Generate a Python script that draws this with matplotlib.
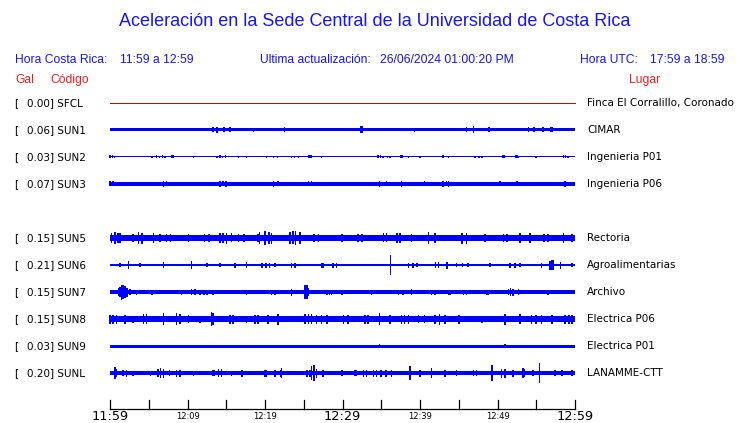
import matplotlib
matplotlib.use("Agg")
import matplotlib.pyplot as plt
import matplotlib.transforms as mtransforms

# --- data ------------------------------------------------------------------
title = "Aceleración en la Sede Central de la Universidad de Costa Rica"
hora_cr = "11:59 a 12:59"
actualizacion = "26/06/2024 01:00:20 PM"
hora_utc = "17:59 a 18:59"

codes = ["SFCL", "SUN1", "SUN2", "SUN3", "SUN5", "SUN6", "SUN7", "SUN8", "SUN9", "SUNL"]
rows = [0, 1, 2, 3, 5, 6, 7, 8, 9, 10]
gal = [0.00, 0.06, 0.03, 0.07, 0.15, 0.21, 0.15, 0.15, 0.03, 0.20]
places = ["Finca El Corralillo, Coronado", "CIMAR", "Ingenieria P01", "Ingenieria P06",
          "Rectoria", "Agroalimentarias", "Archivo", "Electrica P06", "Electrica P01",
          "LANAMME-CTT"]

# background noise half-width of each trace (screen px of the original)
noise = [0.0, 1.5, 0.5, 1.6, 3.4, 1.5, 1.6, 2.9, 1.5, 1.6]

# bursts: (minute after 11:59, half amplitude in px)
ev_sfcl = []
ev_sun1 = [(13.3, 2.5), (13.8, 3), (14.7, 2.5), (15.5, 2.5), (18.5, 2), (22.5, 2.5),
           (32.3, 3.5), (32.5, 3.5), (39.3, 2), (46.0, 2.5), (46.9, 3.5), (48.9, 2.5),
           (54.0, 2.5), (54.7, 2.5), (55.9, 2.5), (56.9, 2.5), (57.0, 2.5)]
ev_sun2 = [(0.0, 1.5), (0.3, 1.5), (0.6, 1.3), (5.4, 1.2), (6.0, 1.5), (6.4, 1.2), (6.8, 1.5),
           (7.1, 1.3), (8.0, 1.5), (8.2, 1.5), (10.8, 1.0), (13.8, 1.3), (14.2, 1.5),
           (14.5, 1.3), (14.9, 1.5), (16.6, 1.0), (17.6, 1.0), (20.2, 1.0), (21.1, 1.3),
           (21.6, 1.3), (23.4, 1.3), (23.8, 1.2), (24.3, 1.3), (25.7, 1.5), (25.9, 1.5),
           (27.3, 1.0), (34.6, 1.5), (34.9, 1.5), (35.2, 1.3), (35.8, 1.2), (36.1, 1.2),
           (37.5, 1.5), (37.7, 1.5), (38.5, 1.0), (40.0, 1.0), (43.0, 1.5), (43.7, 1.3),
           (47.1, 1.3), (47.6, 1.2), (48.0, 1.3), (50.7, 1.5), (50.9, 1.5), (52.3, 1.5),
           (52.5, 1.5), (52.7, 1.3), (55.0, 1.0), (58.5, 1.5), (58.8, 1.5), (59.1, 1.3)]
ev_sun3 = [(0.0, 2.5), (0.4, 2.5), (0.8, 2.2), (5.2, 2.0), (5.6, 2.0), (6.9, 3.0), (7.3, 2.5),
           (10.1, 2.0), (14.2, 2.8), (14.6, 2.5), (15.0, 2.8), (16.6, 2.0), (17.8, 2.0),
           (21.1, 3.0), (21.7, 2.5), (25.6, 2.5), (26.0, 2.5), (28.0, 2.0), (29.5, 2.0),
           (34.8, 3.0), (35.7, 2.5), (37.6, 3.0), (40.6, 2.5), (43.0, 3.0), (43.4, 2.5),
           (43.7, 3.0), (45.2, 2.0), (50.3, 2.5), (52.5, 2.5), (56.5, 2.0), (58.7, 3.0)]
ev_sun5 = [(0.2, 5), (0.65, 6), (1.0, 5), (1.29, 5), (3.0, 4), (3.66, 6), (4.1, 5.5),
           (5.59, 5), (6.45, 4), (7.3, 4), (7.8, 4), (10.1, 4), (12.2, 3.8), (12.8, 3.8),
           (14.2, 5), (14.6, 5), (15.05, 5.5), (15.7, 4.5), (16.6, 4), (17.3, 4), (19.1, 4),
           (19.3, 6), (20.0, 7), (20.5, 6), (20.85, 5.5), (23.2, 6), (23.6, 6.5), (23.95, 7.3),
           (24.5, 6), (26.3, 4), (26.9, 4), (29.9, 4), (32.0, 4), (32.5, 4), (35.3, 4.5),
           (35.7, 4.5), (37.0, 5), (37.4, 5), (38.9, 4), (41.1, 6), (41.9, 5), (45.4, 5.5),
           (46.0, 5.5), (48.4, 4), (50.8, 4), (51.2, 4), (52.9, 5), (54.2, 5), (56.0, 4),
           (56.5, 4), (58.5, 5), (59.6, 4)]
ev_sun6 = [(1.29, 2), (2.4, 3.7), (3.9, 2), (6.9, 3.2), (10.5, 4.3), (12.5, 2), (14.2, 2),
           (16.1, 2.5), (17.6, 3), (19.6, 2.5), (20.1, 2.5), (20.6, 2.5), (21.3, 2),
           (23.4, 2.5), (23.9, 2.5), (27.3, 2.5), (27.5, 2.5), (28.8, 2.5), (29.2, 2.5),
           (36.2, 10), (38.5, 2.5), (39.1, 2.5), (39.6, 2.0), (42.0, 3), (42.4, 3),
           (43.5, 3.5), (44.7, 2), (45.5, 2), (46.2, 2), (49.0, 2), (51.6, 2.5), (52.25, 2.5),
           (52.9, 2), (55.7, 2.5), (56.8, 4.5), (57.0, 5), (57.2, 5), (58.1, 3.5), (59.6, 2)]
ev_sun7 = [(1.1, 4), (1.29, 5), (1.5, 7.5), (1.7, 7), (1.9, 6), (2.2, 4.5), (2.6, 3),
           (3.4, 2.5), (5.4, 2.5), (7.3, 2), (9.2, 2.5), (10.5, 3), (11.0, 3), (11.6, 2.5),
           (12.1, 2.5), (12.5, 2.5), (13.3, 2.5), (14.8, 2), (17.6, 2.5), (20.85, 2.5),
           (21.3, 2.5), (23.4, 3.5), (25.15, 7), (25.4, 7.3), (25.6, 4), (28.0, 2.5),
           (28.3, 2.5), (28.6, 2.5), (29.9, 2.5), (31.0, 2), (33.75, 2.5), (35.7, 2),
           (37.2, 2.5), (37.8, 2.5), (38.9, 3), (41.5, 2.5), (41.9, 2.5), (43.65, 2.5),
           (43.9, 2.5), (45.6, 2.5), (46.0, 2.5), (47.1, 2), (48.6, 2.5), (48.8, 2.5),
           (50.1, 2), (51.4, 3), (51.7, 4), (52.0, 3.5), (52.7, 3), (55.0, 2), (56.55, 2.5),
           (58.7, 2)]
ev_sun8 = [(0.0, 4.5), (0.4, 4.5), (0.86, 4.5), (1.9, 4.5), (3.0, 3.5), (4.3, 5), (4.7, 5),
           (6.9, 5.7), (8.6, 6), (9.0, 5), (10.1, 4), (11.6, 3.5), (13.1, 7), (13.3, 6),
           (15.5, 4.5), (15.9, 4.5), (17.6, 3.5), (18.7, 4.5), (19.1, 4.5), (20.4, 4.5),
           (21.7, 5.5), (25.15, 5), (25.6, 5), (26.0, 5), (26.65, 4.5), (27.3, 4.5),
           (28.0, 4.5), (30.1, 4.5), (30.7, 4.5), (32.9, 4.5), (33.3, 4.5), (34.8, 6),
           (36.1, 4.5), (37.6, 4.5), (38.0, 4.5), (38.5, 4.5), (39.8, 4), (40.6, 4),
           (41.9, 4.5), (42.5, 5.5), (43.2, 4.5), (45.0, 4.5), (48.0, 3.5), (51.0, 5.5),
           (52.9, 5), (54.4, 4.5), (55.0, 4.5), (55.7, 4.5), (57.0, 4.5), (58.7, 4.5),
           (59.2, 4.5), (59.6, 4.5)]
ev_sun9 = [(34.8, 2), (51.0, 2)]
ev_sunl = [(0.65, 5.7), (0.86, 4), (1.7, 3), (2.15, 3.5), (3.0, 2.5), (5.2, 2.5), (6.2, 4),
           (6.5, 5), (6.9, 4.5), (7.7, 3), (8.6, 3.5), (9.0, 3.5), (10.75, 2.5), (11.6, 2),
           (13.3, 3), (13.5, 3), (14.0, 4), (14.4, 4), (15.7, 2.5), (17.0, 3.5), (20.0, 3.5),
           (20.2, 3.5), (21.3, 3.5), (22.0, 3.5), (22.1, 5), (25.4, 3.5), (25.8, 3.5),
           (26.0, 6.7), (26.35, 8.3), (26.65, 4.5), (27.5, 3.5), (29.9, 3), (31.6, 3),
           (31.8, 3), (32.7, 3.5), (33.1, 3.5), (34.0, 3.5), (34.4, 3.5), (35.0, 3.5),
           (35.6, 3.5), (36.3, 3.5), (38.7, 7.3), (40.0, 3.5), (41.5, 5), (43.2, 3.5),
           (44.7, 3), (46.9, 3), (47.3, 3), (49.3, 8.3), (50.5, 4.5), (50.95, 4.5), (52.0, 3.5),
           (53.3, 5), (53.5, 4), (54.6, 3), (55.4, 10), (57.4, 3), (58.3, 3), (59.6, 3)]
events = [ev_sfcl, ev_sun1, ev_sun2, ev_sun3, ev_sun5, ev_sun6, ev_sun7, ev_sun8, ev_sun9, ev_sunl]

tick_minutes = list(range(0, 61, 5))
big_labels = {0: "11:59", 30: "12:29", 60: "12:59"}
small_labels = {10: "12:09", 20: "12:19", 40: "12:39", 50: "12:49"}

# --- layout ------------------------------------------------------------------
W, H = 740, 423
x0_px, x1_px = 110, 575      # 11:59 .. 12:59
row0_px, row_px = 103, 27    # first trace, trace spacing
px_min = (x1_px - x0_px) / 60.0

blue = "#1414ff"
trace_blue = "#0000ff"
red = "#ff1a1a"
fs_head = 8.7
fs_row = 7.5

fig = plt.figure(figsize=(W / 100, H / 100), dpi=100)
ax = fig.add_axes([0, 0, 1, 1])
ax.set_xlim(-x0_px / px_min, 60 + (W - x1_px) / px_min)
ax.set_ylim((H - row0_px) / row_px, -row0_px / row_px)
ax.axis("off")

# traces (drawn without antialiasing, like the original raster)
for i, code in enumerate(codes):
    r = rows[i]
    if code == "SFCL":
        ax.plot([0, 60], [r, r], color="#e00000", lw=0.72, antialiased=False)
        continue
    b = max(noise[i], 0.5) / row_px
    ax.fill_between([0, 60], r - b, r + b, color=trace_blue, lw=0, antialiased=False)
    for t, a in events[i]:
        h = a / row_px
        ax.bar(t, 2 * h, bottom=r - h, width=0.2, color=trace_blue, lw=0,
               antialiased=False)

# labels on each row
trans = mtransforms.blended_transform_factory(fig.transFigure, ax.transData)
for i, code in enumerate(codes):
    r = rows[i]
    ax.text(14 / W, r, "[", transform=trans, fontsize=fs_row, va="center",
            family="DejaVu Sans")
    ax.text(27 / W, r, "{:.2f}] {}".format(gal[i], code), transform=trans,
            fontsize=fs_row, va="center", family="DejaVu Sans")
    ax.text(587 / W, r, places[i], transform=trans, fontsize=fs_row, va="center",
            family="DejaVu Sans")

# time axis
axis_row = (409 - row0_px) / row_px
tick_top = (400 - row0_px) / row_px
label_row = (416 - row0_px) / row_px
ax.plot([0, 60], [axis_row, axis_row], color="black", lw=0.9)
for m in tick_minutes:
    ax.plot([m, m], [axis_row, tick_top], color="black", lw=0.9)
for m, lab in big_labels.items():
    ax.text(m, label_row, lab, ha="center", va="center", fontsize=9.3, family="DejaVu Sans")
for m, lab in small_labels.items():
    ax.text(m, label_row, lab, ha="center", va="center", fontsize=6, family="DejaVu Sans")

# header
head = dict(family="Liberation Sans", va="center")
fig.text(375 / W, 1 - 22 / H, title, ha="center", color=blue, fontsize=13, **head)
fig.text(15 / W, 1 - 60 / H, "Hora Costa Rica:", color=blue, fontsize=fs_head, **head)
fig.text(120 / W, 1 - 60 / H, hora_cr, color=blue, fontsize=fs_head, **head)
fig.text(260 / W, 1 - 60 / H, "Ultima actualización:", color=blue, fontsize=fs_head, **head)
fig.text(380 / W, 1 - 60 / H, actualizacion, color=blue, fontsize=fs_head, **head)
fig.text(580 / W, 1 - 60 / H, "Hora UTC:", color=blue, fontsize=fs_head, **head)
fig.text(650 / W, 1 - 60 / H, hora_utc, color=blue, fontsize=fs_head, **head)
fig.text(15 / W, 1 - 80 / H, "Gal", color=red, fontsize=fs_head, **head)
fig.text(50 / W, 1 - 80 / H, "Código", color=red, fontsize=fs_head, **head)
fig.text(629 / W, 1 - 80 / H, "Lugar", color=red, fontsize=fs_head, **head)

fig.savefig("out.png", dpi=100)
